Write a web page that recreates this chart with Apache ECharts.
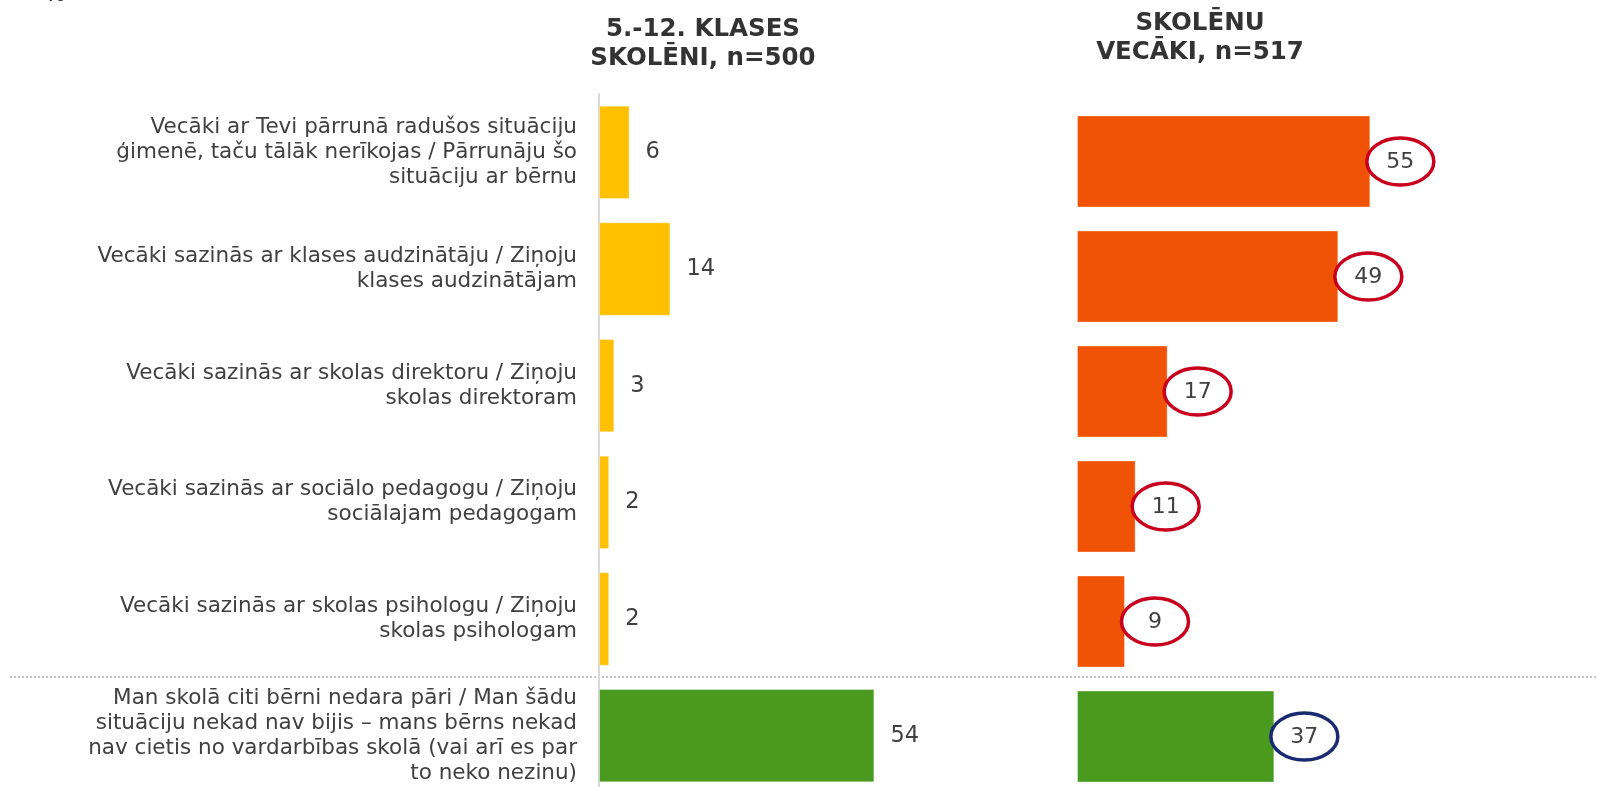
<!DOCTYPE html>
<html>
<head>
<meta charset="utf-8">
<title>Rīcība vardarbības gadījumā</title>
<script src="https://cdn.jsdelivr.net/npm/echarts@6/dist/echarts.min.js"></script>
<style>
  html, body { margin: 0; padding: 0; background: #ffffff; overflow: hidden; }
  /* the chart runs a little past the bottom of the window, so the last row is cut */
  #chart { width: 1598px; height: 800px; }
</style>
</head>
<body>
<div id="chart"></div>
<script>
// Answer options (rows, top to bottom)
const categories = [
  'Vecāki ar Tevi pārrunā radušos situāciju\nģimenē, taču tālāk nerīkojas / Pārrunāju šo\nsituāciju ar bērnu',
  'Vecāki sazinās ar klases audzinātāju / Ziņoju\nklases audzinātājam',
  'Vecāki sazinās ar skolas direktoru / Ziņoju\nskolas direktoram',
  'Vecāki sazinās ar sociālo pedagogu / Ziņoju\nsociālajam pedagogam',
  'Vecāki sazinās ar skolas psihologu / Ziņoju\nskolas psihologam',
  'Man skolā citi bērni nedara pāri / Man šādu\nsituāciju nekad nav bijis – mans bērns nekad\nnav cietis no vardarbības skolā (vai arī es par\nto neko nezinu)'
];

// % of respondents
const pupilValues = [6, 14, 3, 2, 2, 54];
const parentValues = [55, 49, 17, 11, 9, 37];

const pupilTitle = '5.-12. KLASES\nSKOLĒNI, n=500';
const parentTitle = 'SKOLĒNU\nVECĀKI, n=517';

const FONT = '"DejaVu Sans", Verdana, sans-serif';
const TEXT = '#404040';
const YELLOW = '#FFC000';
const ORANGE = '#F05206';
const GREEN = '#4A9A1F';
const RING_RED = '#C8001E';
const RING_BLUE = '#1A2A70';
const lastIdx = categories.length - 1;

const pupilData = pupilValues.map((v, i) => ({
  value: v,
  itemStyle: { color: i === lastIdx ? GREEN : YELLOW }
}));
const parentData = parentValues.map((v, i) => ({
  value: v,
  itemStyle: { color: i === lastIdx ? GREEN : ORANGE }
}));
const parentRings = parentValues.map((v, i) => [v, i]);

const chart = echarts.init(document.getElementById('chart'), null, { renderer: 'canvas' });

chart.setOption({
  backgroundColor: '#ffffff',
  animation: false,
  textStyle: { fontFamily: FONT },
  title: [
    {
      text: pupilTitle, left: 698, top: 10, textAlign: 'center',
      textStyle: { fontFamily: FONT, fontSize: 24.5, fontWeight: 'bold', color: '#333333', lineHeight: 29 }
    },
    {
      text: parentTitle, left: 1195, top: 4, textAlign: 'center',
      textStyle: { fontFamily: FONT, fontSize: 24.5, fontWeight: 'bold', color: '#333333', lineHeight: 29 }
    }
  ],
  graphic: [
    {
      type: 'text', left: 45, top: -14,
      style: { text: '%', font: 'bold 20px ' + FONT, fill: '#333333' }
    },
    {
      type: 'line', z: 0,
      shape: { x1: 10, y1: 677, x2: 1598, y2: 677 },
      style: { stroke: '#8c8c8c', lineWidth: 1, lineDash: [2, 2] }
    }
  ],
  grid: [
    { left: 599, top: 94, width: 306, height: 700, containLabel: false },
    { left: 1077, top: 104, width: 320, height: 690, containLabel: false }
  ],
  xAxis: [
    { type: 'value', gridIndex: 0, min: 0, max: 60, show: false },
    { type: 'value', gridIndex: 1, min: 0, max: 60, show: false }
  ],
  yAxis: [
    {
      type: 'category', gridIndex: 0, data: categories, inverse: true,
      axisLine: { show: true, lineStyle: { color: '#D9D9D9', width: 2 } },
      axisTick: { show: false },
      splitLine: { show: false },
      axisLabel: {
        margin: 22, align: 'right', color: TEXT,
        fontFamily: FONT, fontSize: 21.5, lineHeight: 25,
        padding: [4, 0, 0, 0]
      }
    },
    {
      type: 'category', gridIndex: 1, data: categories, inverse: true,
      axisLine: { show: false }, axisTick: { show: false },
      splitLine: { show: false }, axisLabel: { show: false }
    }
  ],
  series: [
    {
      type: 'bar', xAxisIndex: 0, yAxisIndex: 0,
      data: pupilData, barCategoryGap: '20%',
      itemStyle: { borderColor: 'rgba(255,255,255,0.35)', borderWidth: 1 },
      label: {
        show: true, position: 'right', distance: 16,
        color: TEXT, fontFamily: FONT, fontSize: 22.5
      }
    },
    {
      type: 'bar', xAxisIndex: 1, yAxisIndex: 1,
      data: parentData, barCategoryGap: '20%',
      itemStyle: { borderColor: 'rgba(255,255,255,0.35)', borderWidth: 1 }
    },
    {
      // circled value callouts at the end of each parent bar
      type: 'custom', xAxisIndex: 1, yAxisIndex: 1, z: 5,
      data: parentRings,
      encode: { x: 0, y: 1 },
      renderItem: function (params, api) {
        const v = api.value(0);
        const p = api.coord([v, api.value(1)]);
        const cx = p[0] + 30;
        const ring = params.dataIndex === lastIdx ? RING_BLUE : RING_RED;
        return {
          type: 'group',
          children: [
            {
              type: 'ellipse',
              shape: { cx: cx, cy: p[1], rx: 33.5, ry: 23.5 },
              style: { fill: '#ffffff', stroke: ring, lineWidth: 3.5 }
            },
            {
              type: 'text',
              style: {
                text: String(v), x: cx, y: p[1] + 1,
                align: 'center', verticalAlign: 'middle',
                font: '22px ' + FONT, fill: TEXT
              }
            }
          ]
        };
      }
    }
  ]
});
</script>
</body>
</html>
